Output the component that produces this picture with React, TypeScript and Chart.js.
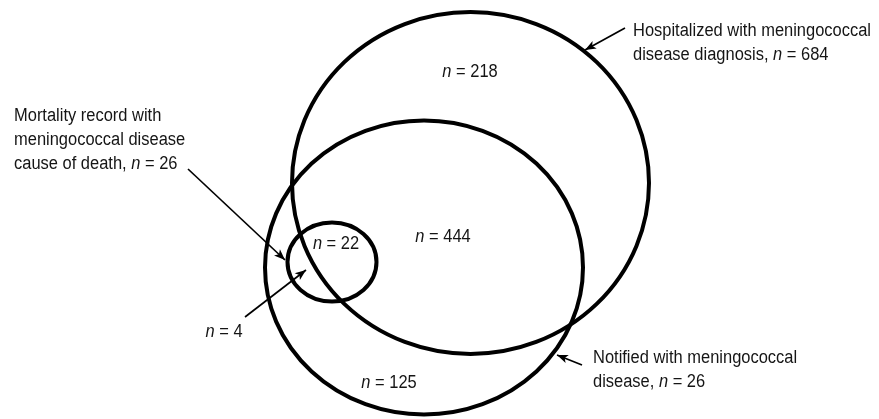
import { useEffect, useRef } from "react";
import { Chart, registerables } from "chart.js";

Chart.register(...registerables);

// Sets (ellipses drawn in data units of a 879 x 419 canvas-aligned scale)
const setNames = ["Hospitalized", "Notified", "Mortality"];
const setCenterX = [470.5, 424, 332];
const setCenterY = [183, 267.5, 262];
const setRadiusX = [178.5, 159, 44.5];
const setRadiusY = [171, 147, 39.5];

// Region counts
const regionCounts = [218, 444, 22, 125, 4];
const regionX = [470, 443, 336, 389, 224];
const regionY = [72, 237, 244, 383, 332];

// Callout labels
const calloutLines = [
  ["Hospitalized with meningococcal", "disease diagnosis, n = 684"],
  ["Mortality record with", "meningococcal disease", "cause of death, n = 26"],
  ["Notified with meningococcal", "disease, n = 26"],
];
const calloutX = [633, 14, 593];
const calloutY = [31, 116, 358];

// Arrows (from label to set outline)
const arrowFromX = [625, 188, 582, 245];
const arrowFromY = [28, 169, 365, 317];
const arrowToX = [585, 285, 557, 306];
const arrowToY = [50, 260, 355, 270];

const FONT_SIZE = 18;
const SCALE_X = 0.915;
const FAMILY = "'Liberation Sans', Arial, sans-serif";
const LINE_H = 24;
const INK = "#151515";

function drawRich(ctx: CanvasRenderingContext2D, text: string, x: number, y: number, align: "left" | "center") {
  const pieces = text.split("n = ");
  const segs: { t: string; it: boolean }[] = [];
  pieces.forEach((p, i) => {
    if (i > 0) {
      segs.push({ t: "n", it: true });
      segs.push({ t: " = " + p, it: false });
    } else if (p) {
      segs.push({ t: p, it: false });
    }
  });
  const fontN = `${FONT_SIZE}px ${FAMILY}`;
  const fontI = `italic ${FONT_SIZE}px ${FAMILY}`;
  let total = 0;
  const widths = segs.map((s) => {
    ctx.font = s.it ? fontI : fontN;
    const w = ctx.measureText(s.t).width;
    total += w;
    return w;
  });
  const start = align === "center" ? x - (total * SCALE_X) / 2 : x;
  ctx.save();
  ctx.translate(start, y);
  ctx.scale(SCALE_X, 1);
  ctx.textAlign = "left";
  ctx.textBaseline = "middle";
  ctx.fillStyle = INK;
  let cx = 0;
  segs.forEach((s, i) => {
    ctx.font = s.it ? fontI : fontN;
    ctx.fillText(s.t, cx, 0);
    cx += widths[i];
  });
  ctx.restore();
}

const vennPlugin = {
  id: "vennPlugin",
  afterDatasetsDraw(chart: any) {
    const { ctx, scales } = chart;
    const xs = scales.x;
    const ys = scales.y;
    ctx.save();
    // set outlines
    ctx.strokeStyle = "#000";
    ctx.lineWidth = 4;
    for (let i = 0; i < setNames.length; i++) {
      const px = xs.getPixelForValue(setCenterX[i]);
      const py = ys.getPixelForValue(setCenterY[i]);
      const rx = Math.abs(xs.getPixelForValue(setCenterX[i] + setRadiusX[i]) - px);
      const ry = Math.abs(ys.getPixelForValue(setCenterY[i] + setRadiusY[i]) - py);
      ctx.beginPath();
      ctx.ellipse(px, py, rx, ry, 0, 0, Math.PI * 2);
      ctx.stroke();
    }
    // arrowheads
    ctx.fillStyle = "#000";
    for (let i = 0; i < arrowToX.length; i++) {
      const x1 = xs.getPixelForValue(arrowFromX[i]);
      const y1 = ys.getPixelForValue(arrowFromY[i]);
      const x2 = xs.getPixelForValue(arrowToX[i]);
      const y2 = ys.getPixelForValue(arrowToY[i]);
      const a = Math.atan2(y2 - y1, x2 - x1);
      const L = 11;
      const W = 4.3;
      ctx.beginPath();
      ctx.moveTo(x2, y2);
      ctx.lineTo(x2 - L * Math.cos(a) + W * Math.sin(a), y2 - L * Math.sin(a) - W * Math.cos(a));
      ctx.lineTo(x2 - L * 0.75 * Math.cos(a), y2 - L * 0.75 * Math.sin(a));
      ctx.lineTo(x2 - L * Math.cos(a) - W * Math.sin(a), y2 - L * Math.sin(a) + W * Math.cos(a));
      ctx.closePath();
      ctx.fill();
    }
    // region counts
    for (let i = 0; i < regionCounts.length; i++) {
      drawRich(ctx, `n = ${regionCounts[i]}`, xs.getPixelForValue(regionX[i]), ys.getPixelForValue(regionY[i]), "center");
    }
    // callouts
    for (let i = 0; i < calloutLines.length; i++) {
      calloutLines[i].forEach((line, j) => {
        drawRich(ctx, line, xs.getPixelForValue(calloutX[i]), ys.getPixelForValue(calloutY[i] + j * LINE_H), "left");
      });
    }
    ctx.restore();
  },
};

export default function App() {
  const ref = useRef<HTMLCanvasElement | null>(null);
  useEffect(() => {
    document.body.style.margin = "0";
    document.body.style.background = "#fff";
    if (!ref.current) return;
    const datasets = arrowToX.map((_, i) => ({
      type: "scatter" as const,
      label: `arrow${i}`,
      data: [
        { x: arrowFromX[i], y: arrowFromY[i] },
        { x: arrowToX[i], y: arrowToY[i] },
      ],
      showLine: true,
      borderColor: "#000",
      borderWidth: 1.7,
      pointRadius: 0,
      pointHoverRadius: 0,
      fill: false,
    }));
    const chart = new Chart(ref.current, {
      type: "scatter",
      data: { datasets },
      options: {
        animation: false,
        responsive: true,
        maintainAspectRatio: false,
        layout: { padding: 0 },
        events: [],
        scales: {
          x: { type: "linear", min: 0, max: 879, display: false },
          y: { type: "linear", min: 0, max: 419, reverse: true, display: false },
        },
        plugins: {
          legend: { display: false },
          tooltip: { enabled: false },
        },
      },
      plugins: [vennPlugin],
    });
    return () => chart.destroy();
  }, []);
  return (
    <div style={{ width: 879, height: 419, position: "relative", background: "#fff" }}>
      <canvas ref={ref} />
    </div>
  );
}
